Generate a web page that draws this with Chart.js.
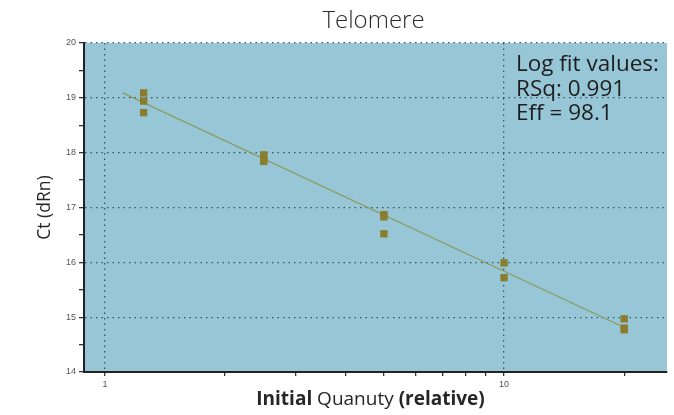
<!DOCTYPE html>
<html>
<head>
<meta charset="utf-8">
<script src="https://cdn.jsdelivr.net/npm/chart.js@4.4.1/dist/chart.umd.min.js"></script>
<style>
html,body{margin:0;padding:0;background:#fff;}
#wrap{width:674px;height:415px;position:relative;}
</style>
</head>
<body>
<div id="wrap"><canvas id="c" width="674" height="415"></canvas></div>
<script>
// Data
const quantities = [1.25, 1.25, 1.25, 2.5, 2.5, 2.5, 5, 5, 5, 10, 10, 20, 20, 20];
const ctValues   = [19.09, 18.94, 18.73, 17.96, 17.89, 17.84, 16.87, 16.83, 16.52, 15.99, 15.72, 14.97, 14.80, 14.77];
const fitX = [1.107, 20.46];
const fitY = [19.09, 14.78];
const xTickValues = [1, 2, 3, 4, 5, 6, 7, 8, 9, 10, 20];
const xLabelled = [1, 10];
const yTickValues = [14, 14.5, 15, 15.5, 16, 16.5, 17, 17.5, 18, 18.5, 19, 19.5, 20];
const annotationLines = ['Log fit values:', 'RSq: 0.991', 'Eff = 98.1'];
const chartTitle = 'Telomere';
const xTitleParts = [['Initial ', 'bold'], ['Quanuty ', 'normal'], ['(relative)', 'bold']];
const yTitle = 'Ct (dRn)';

const points = quantities.map((q, i) => ({x: q, y: ctValues[i]}));
const fitLine = fitX.map((x, i) => ({x: x, y: fitY[i]}));

const gridDark = '#3a5560';
const FONT = '"Open Sans", "Noto Sans", sans-serif';

const bgPlugin = {
  id: 'bg',
  beforeDraw(chart) {
    const {ctx, chartArea: a} = chart;
    ctx.save();
    ctx.fillStyle = '#97c6d6';
    ctx.fillRect(a.left, a.top, a.right - a.left, a.bottom - a.top);
    ctx.restore();
  },
  afterDraw(chart) {
    const {ctx, chartArea: a} = chart;
    const cx = (a.left + a.right) / 2;
    ctx.save();
    // chart title
    ctx.fillStyle = '#2b2b2b';
    ctx.font = '300 24px ' + FONT;
    ctx.textAlign = 'center';
    ctx.textBaseline = 'alphabetic';
    ctx.fillText(chartTitle, cx - 2, 28);
    // annotation
    ctx.font = '22.5px ' + FONT;
    ctx.textAlign = 'left';
    ctx.fillStyle = '#1e1e1e';
    annotationLines.forEach((t, i) => ctx.fillText(t, a.right - 151, a.top + 28 + i * 24.5));
    // x axis title (mixed weights)
    ctx.fillStyle = '#262626';
    const size = 19;
    let total = 0;
    const widths = xTitleParts.map(([t, w]) => { ctx.font = w + ' ' + size + 'px ' + FONT; const m = ctx.measureText(t).width; total += m; return m; });
    let x = cx - total / 2 - 5;
    xTitleParts.forEach(([t, w], i) => { ctx.font = w + ' ' + size + 'px ' + FONT; ctx.fillText(t, x, 405); x += widths[i]; });
    // y axis title
    ctx.translate(45, (a.top + a.bottom) / 2);
    ctx.rotate(-Math.PI / 2);
    ctx.font = '17.5px ' + FONT;
    ctx.textAlign = 'center';
    ctx.textBaseline = 'middle';
    ctx.fillText(yTitle, 0, 0);
    ctx.restore();
  }
};

new Chart(document.getElementById('c'), {
  type: 'scatter',
  data: {
    datasets: [
      {
        type: 'line',
        data: fitLine,
        borderColor: '#8d9a62',
        borderWidth: 1.3,
        pointRadius: 0,
        fill: false,
        order: 2
      },
      {
        data: points,
        pointStyle: 'rect',
        pointRadius: 5.2,
        pointBackgroundColor: '#8a7d30',
        pointBorderColor: '#8a7d30',
        pointBorderWidth: 0,
        order: 1
      }
    ]
  },
  plugins: [bgPlugin],
  options: {
    responsive: false,
    animation: false,
    devicePixelRatio: 1,
    layout: {padding: {top: 43, right: 7, left: 0, bottom: 0}},
    plugins: {legend: {display: false}, tooltip: {enabled: false}, title: {display: false}},
    scales: {
      x: {
        type: 'logarithmic',
        min: 0.886,
        max: 25.6,
        afterBuildTicks(s) { s.ticks = xTickValues.map(v => ({value: v})); },
        afterFit(s) { s.height = 43; },
        ticks: {
          autoSkip: false,
          maxRotation: 0,
          padding: 3,
          color: '#555',
          font: {family: 'Arial, "Liberation Sans", sans-serif', size: 9},
          callback: (v) => xLabelled.includes(v) ? String(v) : ''
        },
        grid: {
          color: (c) => c.tick && xLabelled.includes(c.tick.value) ? gridDark : 'transparent',
          tickColor: '#333',
          lineWidth: 1.3,
          tickLength: 4,
          drawTicks: true
        },
        border: {display: true, color: '#222', width: 2, dash: [1.5, 4]},
        title: {display: false}
      },
      y: {
        type: 'linear',
        min: 14,
        max: 20,
        afterBuildTicks(s) { s.ticks = yTickValues.map(v => ({value: v})); },
        afterFit(s) { s.width = 84; },
        ticks: {
          autoSkip: false,
          padding: 3,
          color: '#555',
          font: {family: 'Arial, "Liberation Sans", sans-serif', size: 9},
          callback: (v) => Number.isInteger(v) ? String(v) : ''
        },
        grid: {
          color: (c) => c.tick && Number.isInteger(c.tick.value) ? gridDark : 'transparent',
          tickColor: '#333',
          lineWidth: 1.3,
          tickLength: 5
        },
        border: {display: true, color: '#222', width: 2, dash: [1.5, 4]},
        title: {display: false}
      }
    }
  }
});
</script>
</body>
</html>
